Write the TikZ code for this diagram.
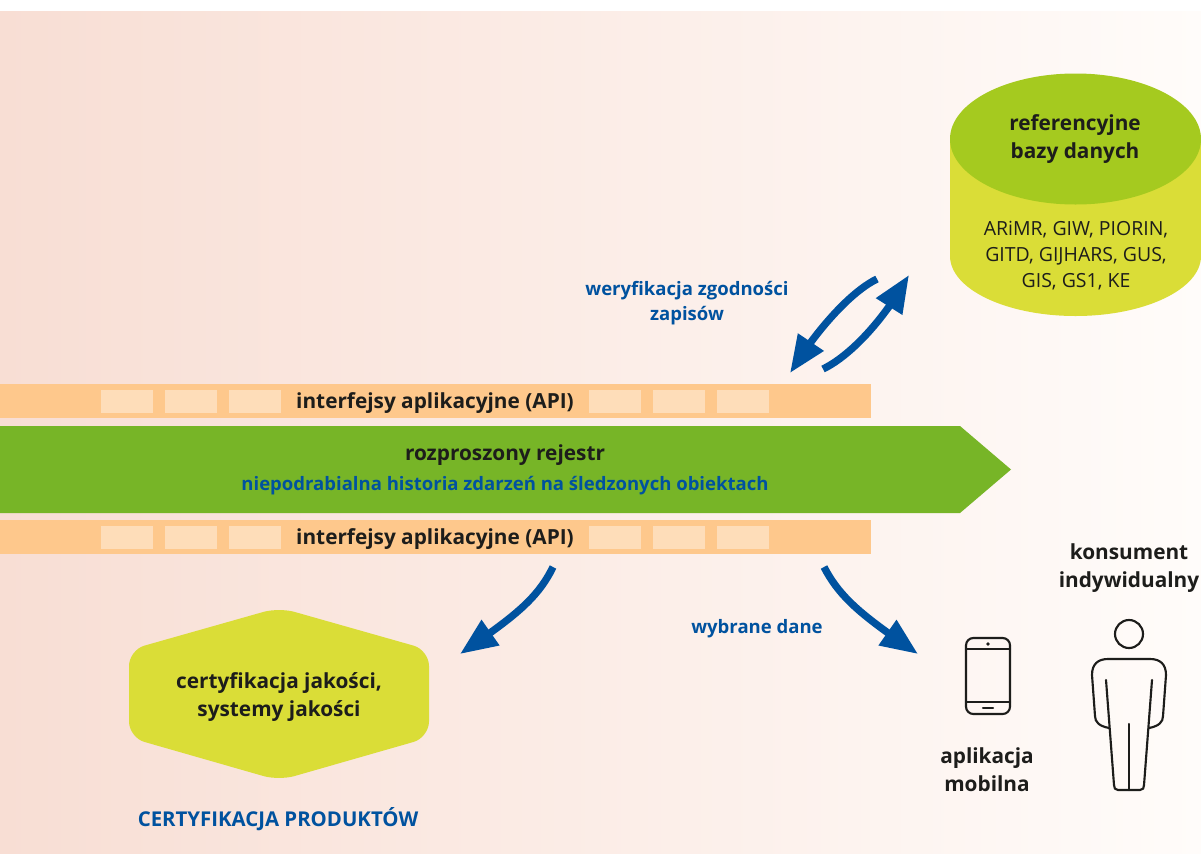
\documentclass[tikz,border=0pt]{standalone}
\usepackage{fontspec}
\setmainfont{Open Sans}
\usetikzlibrary{arrows.meta, bending, calc}
\definecolor{bandorange}{HTML}{FEC88C}
\definecolor{bandlight}{HTML}{FEDDB9}
\definecolor{chaingreen}{HTML}{77B527}
\definecolor{capgreen}{HTML}{A5CA1F}
\definecolor{limefill}{HTML}{DADD37}
\definecolor{flowblue}{HTML}{00529F}
\definecolor{inkblack}{HTML}{1D1D1B}
\definecolor{bgleft}{HTML}{F8DED4}
\definecolor{bgright}{HTML}{FFFCFA}
\tikzset{
  flow/.style={line width=5.5pt, color=flowblue, -{Triangle[length=28pt,width=22pt]}},
  bluetext/.style={text=flowblue, font=\fontsize{13.9pt}{18.75pt}\selectfont\bfseries, align=center},
  blacktext/.style={text=inkblack, font=\fontsize{15.6pt}{21pt}\selectfont\bfseries, align=center},
  smalltext/.style={text=inkblack, font=\fontsize{14.6pt}{19.5pt}\selectfont, align=center},
  outline/.style={draw=inkblack, line width=1.6pt, line cap=round, line join=round},
}
\newcommand{\apiband}[2]{
    \fill[bandorange] (0,#1) rectangle (871,#1+34);
    \foreach \xa in {101,165,229,589,653,717}
      \fill[bandlight] (\xa,#1+5.5) rectangle (\xa+52,#1+28.5);
    \node[blacktext] (#2) at (435,#1+19) {interfejsy aplikacyjne (API)};
}
\begin{document}
\begin{tikzpicture}[x=0.75pt,y=-0.75pt]
    \useasboundingbox (0,0) rectangle (1201,853);
    \fill[white] (0,0) rectangle (1201,853);
    \shade[left color=bgleft, right color=bgright] (0,11) rectangle (1201,853);
    % cylinder
    \fill[limefill] (950,139) -- (950,256) arc[start angle=180, end angle=0, x radius=125.5, y radius=60] -- (1201,139) -- cycle;
    \fill[capgreen] (1075.5,139) ellipse[x radius=125.5, y radius=65.5];
    \node[blacktext] (refdb) at (1075,139) {referencyjne\\bazy danych};
    \node[smalltext] (reflist) at (1076,256) {ARiMR, GIW, PIORIN,\\GITD, GIJHARS, GUS,\\GIS, GS1, KE};
    % bands
    \apiband{384}{apitop}
    \apiband{520}{apibottom}
    \fill[chaingreen] (0,426) -- (960,426) -- (1011,469.5) -- (960,513) -- (0,513) -- cycle;
    \node[blacktext] (ledger) at (505,455) {rozproszony rejestr};
    \node[bluetext] (history) at (505,486) {niepodrabialna historia zdarzeń na śledzonych obiektach};
    % labels
    \node[bluetext] (verify) at (687,303) {weryfikacja zgodności\\zapisów};
    \node[bluetext] (chosen) at (757,629) {wybrane dane};
    \node[blacktext] (cons) at (1129,568) {konsument\\indywidualny};
    \node[blacktext] (app) at (987,770) {aplikacja\\mobilna};
    \node[text=flowblue, font=\fontsize{15.3pt}{16pt}\selectfont\bfseries] (certprod) at (278,819) {CERTYFIKACJA PRODUKTÓW};
    % hexagon
    \fill[limefill, rounded corners=12pt] (279,607.5) -- (429,650) -- (429,737.5) -- (279,780.5) -- (129,737.5) -- (129,650) -- cycle;
    \node[blacktext] (cert) at (279,697) {certyfikacja jakości,\\systemy jakości};
    % arrows
    \coordinate (a1) at (877,279); \coordinate (a2) at (790,373);
    \coordinate (b1) at (823,369); \coordinate (b2) at (909,275);
    \coordinate (c1) at (553,567); \coordinate (c2) at (460,654);
    \coordinate (d1) at (824,567); \coordinate (d2) at (918,654);
    \draw[flow] (a1) .. controls (850,292) and (815,332) .. (a2);
    \draw[flow] (b1) .. controls (850,356) and (884,320) .. (b2);
    \draw[flow] (c1) .. controls (537,600) and (512,618) .. (c2);
    \draw[flow] (d1) .. controls (841,600) and (866,618) .. (d2);
    % phone
    \draw[outline, rounded corners=5.5pt] (966,638) rectangle (1010,714);
    \draw[outline] (966,649) -- (1010,649) (966,702) -- (1010,702) (983,708) -- (993,708);
    \fill[inkblack] (988,644) circle[radius=1.8];
    % person
    \draw[outline] (1129,634) circle[radius=14];
    \draw[outline] (1109,728) .. controls (1099,726) and (1095,722) .. (1095,716)
      -- (1092,675) .. controls (1092,664) and (1098,659) .. (1108,659)
      -- (1150,659) .. controls (1160,659) and (1166,664) .. (1166,675)
      -- (1163,716) .. controls (1163,722) and (1159,726) .. (1149,728);
    \draw[outline] (1106,680) -- (1114,785) .. controls (1114,788) and (1115,790) .. (1118,790)
      -- (1140,790) .. controls (1143,790) and (1144,788) .. (1144,785) -- (1152,680);
    \draw[outline] (1129,724) -- (1129,790);
\end{tikzpicture}
\end{document}
